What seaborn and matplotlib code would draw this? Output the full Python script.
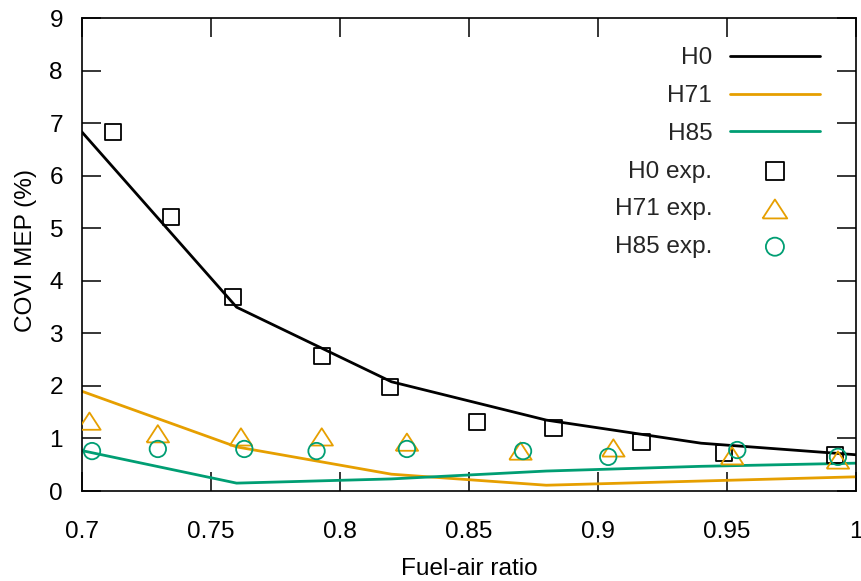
import numpy as np
import pandas as pd
import matplotlib
matplotlib.use("Agg")
import matplotlib.pyplot as plt
import seaborn as sns

# ---- data ----
model_x = [0.70, 0.76, 0.82, 0.88, 0.94, 1.00]
h0_model = [6.84, 3.50, 2.08, 1.35, 0.91, 0.69]
h71_model = [1.90, 0.84, 0.32, 0.11, 0.19, 0.27]
h85_model = [0.77, 0.15, 0.23, 0.38, 0.47, 0.53]

h0_exp_x = [0.712, 0.7345, 0.7586, 0.793, 0.8195, 0.8533, 0.8828, 0.9169, 0.949, 0.992]
h0_exp_y = [6.84, 5.22, 3.70, 2.57, 1.98, 1.31, 1.20, 0.93, 0.73, 0.69]

h71_exp_x = [0.703, 0.7295, 0.7617, 0.793, 0.826, 0.870, 0.906, 0.952, 0.993]
h71_exp_y = [1.33, 1.09, 1.03, 1.03, 0.93, 0.76, 0.82, 0.67, 0.59]

h85_exp_x = [0.704, 0.7295, 0.763, 0.791, 0.826, 0.871, 0.904, 0.954, 0.993]
h85_exp_y = [0.76, 0.80, 0.80, 0.76, 0.80, 0.76, 0.65, 0.78, 0.65]

x_ticks = [0.7, 0.75, 0.8, 0.85, 0.9, 0.95, 1.0]
x_tick_labels = ["0.7", "0.75", "0.8", "0.85", "0.9", "0.95", "1"]
y_ticks = list(range(0, 10))

c_black = "#000000"
c_orange = "#E69F00"
c_green = "#009E73"

sns.set_theme(style="white")
plt.rcParams["font.family"] = ["Liberation Sans", "DejaVu Sans"]
FS = 17.6

fig = plt.figure(figsize=(8.61, 5.81), dpi=100)
W, H = 861, 581
ax_l, ax_r, ax_t, ax_b = 81.7, 856, 18.3, 491
ax = fig.add_axes([ax_l / W, 1 - ax_b / H, (ax_r - ax_l) / W, (ax_b - ax_t) / H])

lw = 2.0
sns.lineplot(x=model_x, y=h0_model, color=c_black, linewidth=lw, label="H0", ax=ax)
sns.lineplot(x=model_x, y=h71_model, color=c_orange, linewidth=lw, label="H71", ax=ax)
sns.lineplot(x=model_x, y=h85_model, color=c_green, linewidth=lw, label="H85", ax=ax)

tri = [(-1, -0.77), (1, -0.77), (0, 0.77), (-1, -0.77)]
mew = 1.3
sns.scatterplot(x=h0_exp_x, y=h0_exp_y, marker="s", s=135, facecolor="none",
                edgecolor=c_black, linewidth=mew, label="H0 exp.", ax=ax, zorder=3)
sns.scatterplot(x=h71_exp_x, y=h71_exp_y, marker=tri, s=260, facecolor="none",
                edgecolor=c_orange, linewidth=mew, label="H71 exp.", ax=ax, zorder=3)
sns.scatterplot(x=h85_exp_x, y=h85_exp_y, marker="o", s=140, facecolor="none",
                edgecolor=c_green, linewidth=mew, label="H85 exp.", ax=ax, zorder=3)

ax.set_xlim(0.7, 1.0)
ax.set_ylim(0, 9)
ax.set_xticks(x_ticks)
ax.set_xticklabels(x_tick_labels)
ax.set_yticks(y_ticks)

for sp in ax.spines.values():
    sp.set_visible(True)
    sp.set_color("black")
    sp.set_linewidth(1.2)

ax.tick_params(axis="both", which="major", direction="in", length=13.7, width=1.1,
               color="black", labelsize=FS, labelcolor="black",
               top=True, right=True, bottom=True, left=True)
ax.tick_params(axis="y", pad=13.5)
ax.tick_params(axis="x", pad=21.5)

ax.set_xlabel("Fuel-air ratio", fontsize=FS, color="black")
ax.set_ylabel("COVI MEP (%)", fontsize=FS, color="black")
ax.xaxis.set_label_coords(0.5, (ax_b - 558) / (ax_b - ax_t))
ax.yaxis.set_label_coords((37 - ax_l) / (ax_r - ax_l), 0.508)

handles, labels = ax.get_legend_handles_labels()
leg = ax.legend(handles, labels, loc="upper right",
                bbox_to_anchor=(832 / W, 1 - 35 / H), bbox_transform=fig.transFigure,
                frameon=False, markerfirst=False, fontsize=FS, borderpad=0,
                handlelength=3.67, handletextpad=0.73, labelspacing=0.64,
                scatterpoints=1, markerscale=1.1)

fig.savefig("out.png", dpi=100)
